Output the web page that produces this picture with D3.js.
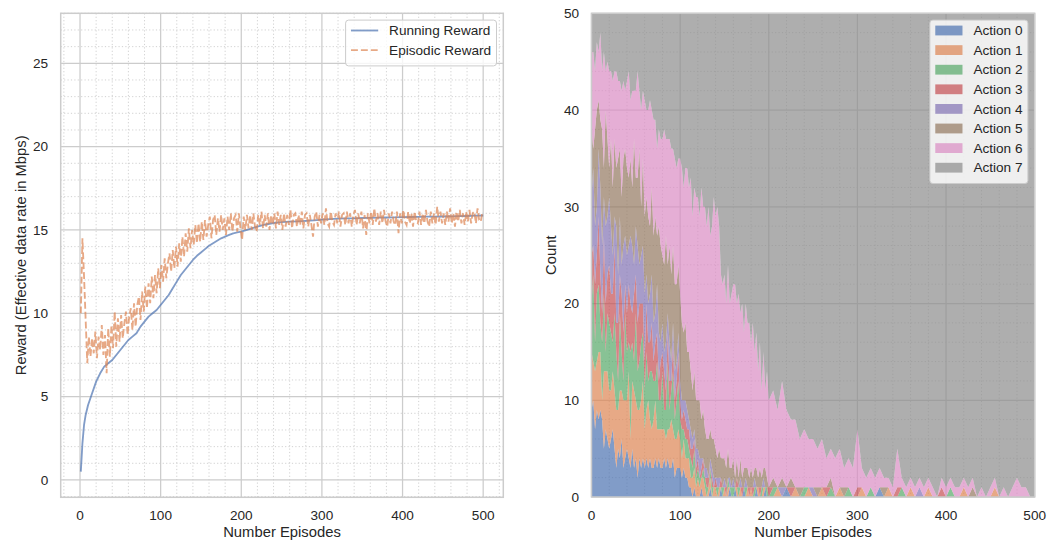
<!DOCTYPE html>
<html lang="en">
<head>
<meta charset="UTF-8">
<title>Reward and action counts per episode</title>
<script src="https://d3js.org/d3.v7.min.js"></script>
<style>
  body { margin: 0; background: #ffffff; }
  svg { display: block; font-family: "Liberation Sans", Arial, sans-serif; }
  .tick-label { font-size: 13.6px; fill: #262626; }
  .axis-label { font-size: 14.8px; fill: #262626; }
  .legend-text { font-size: 13.6px; fill: #262626; }
</style>
</head>
<body>
<svg width="1061" height="542"></svg>
<script>
// ---------- data ----------
const episodeTicks = [0, 100, 200, 300, 400, 500];
const rewardTicks = [0, 5, 10, 15, 20, 25];
const countTicks = [0, 10, 20, 30, 40, 50];

const runEpisodes = [1, 3, 5, 7, 10, 15, 20, 25, 30, 35, 40, 45, 50, 55, 60, 65, 70, 75, 80, 85, 90, 95, 100,
  105, 110, 115, 120, 125, 130, 135, 140, 145, 150, 155, 160, 165, 170, 175, 180, 185, 190, 195, 200,
  210, 220, 230, 240, 250, 260, 270, 280, 290, 300, 310, 320, 330, 340, 350, 360, 370, 380, 390, 400,
  410, 420, 430, 440, 450, 460, 470, 480, 490, 500];
const runningReward = [0.5, 2.2, 3.3, 3.9, 4.5, 5.2, 5.9, 6.4, 6.8, 7.0, 7.2, 7.5, 7.8, 8.1, 8.4, 8.6, 8.8, 9.2, 9.5, 9.8, 10.0, 10.2, 10.5,
  10.8, 11.1, 11.5, 11.9, 12.3, 12.6, 12.9, 13.2, 13.45, 13.65, 13.85, 14.05, 14.2, 14.35, 14.5, 14.6, 14.7, 14.8, 14.85, 14.9,
  15.05, 15.2, 15.33, 15.42, 15.47, 15.5, 15.52, 15.55, 15.58, 15.62, 15.65, 15.68, 15.7, 15.7, 15.72, 15.73, 15.74, 15.75, 15.76, 15.77,
  15.78, 15.79, 15.8, 15.8, 15.81, 15.82, 15.83, 15.84, 15.86, 15.87];

// every second episode, 1..499
const epiEpisodes = d3.range(1, 500, 2);
const episodicReward = [
  10.0, 14.5, 12.2, 9.6, 7.0, 8.6, 7.4, 8.5, 7.6, 8.9, 7.3, 8.6, 7.8, 9.3, 7.5,
  8.7, 6.4, 9.1, 7.4, 9.3, 7.9, 10.1, 8.0, 9.7, 8.3, 9.9, 8.5, 9.4, 10.1, 8.7,
  9.8, 10.3, 9.0, 10.6, 9.2, 10.5, 11.0, 9.6, 11.3, 10.1, 11.6, 10.3, 11.8, 10.6, 12.2,
  10.9, 12.3, 11.2, 12.7, 11.5, 12.9, 11.9, 13.3, 12.1, 13.0, 13.6, 12.5, 13.8, 12.7, 14.0,
  12.8, 14.2, 13.1, 14.6, 13.4, 14.8, 13.7, 15.1, 13.9, 15.0, 14.1, 15.3, 14.2, 15.4, 14.3,
  15.5, 14.4, 15.6, 14.6, 15.3, 15.8, 14.5, 15.6, 15.9, 14.7, 15.7, 14.9, 15.9, 15.0, 15.7,
  14.7, 15.8, 15.0, 16.0, 14.9, 15.7, 15.9, 14.9, 16.0, 15.1, 14.4, 15.8, 15.0, 15.9, 15.1,
  15.9, 15.0, 16.0, 15.2, 14.9, 15.9, 15.3, 16.1, 15.1, 15.9, 15.2, 16.0, 15.0, 15.9, 15.3,
  16.0, 15.1, 16.1, 15.3, 15.9, 15.0, 16.0, 15.2, 15.9, 15.3, 16.2, 15.1, 15.9, 16.0, 15.2,
  15.9, 15.3, 16.1, 15.1, 15.9, 16.0, 15.2, 15.9, 15.3, 14.6, 15.8, 16.1, 15.2, 15.9, 15.4,
  16.0, 15.3, 16.3, 15.4, 15.2, 16.1, 15.5, 15.3, 16.0, 15.4, 16.1, 15.2, 15.9, 16.0, 15.3,
  16.1, 15.4, 16.0, 15.2, 15.9, 16.2, 15.3, 16.0, 15.4, 16.1, 15.1, 15.9, 14.7, 16.0, 15.4,
  16.1, 15.3, 16.3, 15.5, 16.0, 15.3, 16.1, 15.4, 16.2, 15.5, 15.2, 16.0, 15.4, 16.1, 15.5,
  15.3, 16.1, 14.8, 16.0, 15.4, 16.2, 15.5, 15.3, 16.1, 15.4, 16.0, 15.2, 16.1, 15.5, 15.4,
  16.1, 15.3, 16.0, 15.4, 16.2, 15.5, 15.2, 16.1, 15.4, 16.0, 15.3, 16.4, 15.5, 16.1, 15.4,
  16.0, 15.3, 16.1, 15.5, 16.3, 15.4, 16.0, 15.2, 16.1, 15.5, 16.2, 15.4, 16.0, 15.3, 16.1,
  15.5, 16.2, 15.4, 16.0, 16.1, 15.4, 16.3, 15.6, 15.5, 16.1
];

// action counts (50 steps per episode): every 2nd episode up to 200, then every 5th
const actionEpisodes = d3.range(0, 201, 2).concat(d3.range(205, 501, 5));
const action0 = [
  9, 10, 7, 9, 8, 9, 8, 5, 7, 6, 5, 6, 7, 5, 3, 5, 4, 6, 3, 4, 5, 4, 3, 5, 3, 4, 2, 4, 3, 4,
  3, 4, 3, 4, 3, 3, 4, 3, 4, 3, 3, 4, 3, 4, 3, 3, 4, 2, 3, 3, 3, 2, 3, 2, 2, 1, 1, 0, 1, 0,
  0, 0, 1, 0, 0, 0, 0, 1, 0, 0, 0, 0, 0, 1, 0, 0, 0, 0, 1, 0, 0, 1, 0, 0, 0, 0, 1, 0, 0, 0,
  0, 0, 0, 1, 0, 0, 0, 0, 1, 0, 0,
  0, 0, 0, 1, 0, 0, 0, 0, 0, 0, 0, 0, 0, 0, 0, 0, 0, 0, 0, 0, 0, 0, 0, 0, 1, 0, 0, 0, 0,
  0, 0, 0, 0, 0, 0, 0, 0, 0, 0, 0, 0, 0, 0, 0, 0, 0, 0, 0, 0, 0, 0, 0, 0, 0, 0, 0, 0, 0, 0, 0];
const action1 = [
  6, 4, 6, 5, 7, 6, 2, 8, 6, 7, 6, 5, 6, 6, 6, 4, 7, 5, 7, 6, 5, 9, 3, 7, 8, 6, 7, 5, 7, 8,
  4, 5, 7, 4, 4, 5, 6, 4, 3, 4, 4, 3, 3, 3, 4, 5, 3, 4, 3, 4, 3, 2, 3, 2, 2, 3, 1, 2, 2, 1,
  2, 1, 1, 2, 1, 0, 1, 1, 0, 1, 1, 0, 1, 0, 0, 1, 0, 1, 0, 0, 0, 0, 1, 0, 1, 0, 0, 0, 1, 0,
  1, 0, 0, 0, 1, 0, 0, 1, 0, 0, 0,
  0, 1, 0, 0, 0, 1, 0, 0, 1, 0, 0, 1, 0, 0, 0, 1, 0, 0, 0, 0, 1, 0, 0, 0, 0, 0, 1, 0, 0,
  0, 0, 1, 0, 0, 0, 1, 0, 0, 0, 0, 0, 0, 0, 1, 0, 0, 0, 0, 0, 0, 1, 0, 0, 0, 0, 0, 0, 0, 0, 0];
const action2 = [
  5, 9, 3, 7, 7, 3, 6, 8, 2, 6, 7, 6, 3, 8, 6, 3, 8, 4, 2, 9, 5, 3, 9, 4, 3, 9, 4, 5, 6, 5,
  4, 6, 2, 5, 6, 4, 2, 7, 3, 3, 6, 2, 3, 7, 2, 3, 6, 2, 4, 5, 2, 3, 1, 2, 2, 1, 2, 1, 2, 1,
  1, 1, 0, 1, 1, 1, 0, 1, 1, 0, 0, 1, 0, 0, 1, 0, 0, 1, 0, 1, 1, 0, 0, 1, 0, 0, 0, 1, 0, 0,
  0, 0, 1, 0, 0, 0, 1, 0, 0, 1, 0,
  1, 0, 0, 0, 0, 0, 0, 1, 0, 0, 0, 0, 0, 1, 0, 0, 0, 1, 0, 0, 0, 0, 1, 0, 0, 0, 0, 0, 0,
  1, 0, 0, 0, 0, 0, 0, 0, 0, 0, 0, 1, 0, 0, 0, 0, 0, 0, 0, 0, 0, 0, 0, 0, 0, 0, 0, 0, 0, 0, 0];
const action3 = [
  5, 3, 6, 4, 7, 5, 3, 6, 5, 4, 6, 4, 5, 7, 3, 6, 4, 6, 5, 3, 4, 6, 5, 3, 7, 4, 5, 6, 4, 3,
  3, 5, 4, 3, 5, 2, 4, 3, 2, 4, 2, 4, 2, 3, 3, 1, 3, 2, 2, 3, 2, 1, 2, 2, 1, 2, 1, 2, 1, 1,
  1, 0, 1, 1, 0, 1, 1, 0, 1, 0, 1, 0, 0, 1, 0, 0, 1, 0, 0, 0, 0, 0, 1, 0, 0, 1, 0, 0, 0, 1,
  0, 1, 0, 0, 0, 1, 0, 0, 0, 0, 1,
  0, 0, 0, 0, 1, 0, 0, 0, 0, 0, 0, 0, 1, 0, 0, 0, 0, 0, 0, 1, 0, 0, 0, 0, 0, 0, 0, 0, 1,
  0, 0, 0, 0, 0, 0, 0, 0, 0, 1, 0, 0, 0, 0, 0, 0, 0, 0, 0, 0, 0, 0, 0, 0, 0, 0, 0, 0, 0, 0, 0];
const action4 = [
  6, 8, 6, 5, 7, 9, 7, 4, 8, 6, 7, 7, 4, 3, 10, 5, 6, 3, 9, 5, 6, 4, 7, 7, 3, 5, 8, 4, 5, 6,
  7, 3, 4, 5, 5, 4, 3, 5, 5, 2, 3, 2, 5, 2, 4, 2, 2, 3, 2, 2, 2, 2, 1, 2, 2, 1, 2, 1, 1, 2,
  1, 2, 1, 0, 1, 1, 0, 1, 1, 1, 0, 1, 1, 0, 0, 1, 0, 0, 1, 0, 1, 0, 0, 0, 1, 0, 0, 1, 0, 0,
  0, 0, 1, 0, 0, 0, 0, 1, 0, 0, 0,
  0, 0, 1, 0, 0, 0, 0, 0, 0, 1, 0, 0, 0, 0, 0, 0, 0, 0, 0, 0, 0, 0, 0, 0, 0, 0, 0, 0, 0,
  0, 0, 0, 0, 1, 0, 0, 0, 0, 0, 0, 0, 0, 0, 0, 0, 0, 0, 0, 0, 0, 0, 0, 0, 0, 0, 0, 0, 0, 0, 0];
const action5 = [
  7, 2, 10, 10, 5, 7, 12, 3, 12, 8, 3, 9, 7, 8, 6, 12, 7, 7, 9, 9, 9, 7, 8, 6, 13, 5, 7, 12, 5, 9,
  8, 8, 9, 7, 9, 9, 10, 5, 11, 10, 7, 9, 11, 5, 10, 9, 8, 9, 8, 7, 9, 8, 7, 8, 6, 7, 6, 5, 6, 5,
  5, 6, 4, 5, 4, 3, 4, 3, 3, 4, 3, 2, 3, 2, 3, 2, 2, 3, 1, 2, 2, 1, 2, 1, 2, 1, 2, 1, 2, 1,
  2, 1, 1, 2, 1, 2, 1, 1, 2, 1, 0,
  1, 0, 1, 0, 1, 0, 1, 0, 0, 0, 1, 0, 0, 1, 0, 0, 1, 0, 0, 0, 0, 0, 0, 0, 0, 1, 0, 0, 0,
  0, 0, 0, 0, 0, 0, 0, 0, 0, 0, 0, 0, 0, 0, 0, 0, 1, 0, 0, 0, 0, 0, 0, 0, 0, 0, 0, 0, 0, 0, 0];
const action6 = [
  8, 10, 6, 7, 5, 9, 6, 12, 4, 8, 10, 7, 11, 7, 10, 8, 7, 11, 8, 6, 9, 11, 6, 10, 5, 9, 11, 6, 10, 7,
  12, 9, 11, 13, 8, 12, 10, 9, 10, 11, 12, 14, 10, 13, 11, 13, 10, 13, 12, 11, 14, 16, 15, 16, 19, 17, 20, 18, 19, 21,
  21, 19, 24, 21, 23, 22, 24, 20, 22, 25, 24, 26, 23, 19, 18, 19, 17, 19, 17, 18, 18, 20, 16, 19, 15, 18, 14, 17, 15, 16,
  13, 16, 12, 14, 11, 13, 9, 12, 8, 11, 9,
  9, 8, 10, 8, 6, 7, 5, 6, 5, 5, 4, 5, 3, 3, 4, 4, 2, 3, 3, 6, 2, 2, 2, 2, 2, 1, 1, 1, 4,
  1, 1, 1, 1, 1, 1, 1, 1, 0, 1, 1, 1, 1, 1, 1, 1, 1, 0, 1, 0, 1, 1, 0, 1, 0, 1, 2, 1, 1, 0, 0];
const action7 = [
  4, 4, 6, 3, 4, 2, 6, 4, 6, 5, 6, 6, 7, 6, 6, 7, 7, 8, 7, 8, 7, 6, 9, 8, 8, 8, 6, 8, 10, 8,
  9, 10, 10, 9, 10, 11, 11, 14, 12, 13, 13, 12, 13, 13, 13, 14, 14, 15, 16, 15, 15, 16, 18, 16, 16, 18, 17, 21, 18, 19,
  19, 21, 18, 20, 20, 22, 20, 23, 22, 19, 21, 20, 22, 27, 28, 27, 30, 26, 30, 29, 28, 28, 30, 29, 31, 30, 33, 30, 32, 32,
  34, 32, 35, 33, 37, 34, 39, 35, 39, 37, 40,
  39, 41, 38, 41, 42, 42, 44, 43, 44, 44, 45, 44, 46, 45, 46, 45, 47, 46, 47, 43, 47, 48, 47, 48, 47, 48, 48, 49, 45,
  48, 49, 48, 49, 48, 49, 48, 49, 50, 48, 49, 48, 49, 49, 48, 49, 48, 50, 49, 50, 49, 48, 50, 49, 50, 49, 48, 49, 49, 50, 50];

const actionNames = ["Action 0", "Action 1", "Action 2", "Action 3", "Action 4", "Action 5", "Action 6", "Action 7"];
const actionSeries = [action0, action1, action2, action3, action4, action5, action6, action7];
const palette = ["#4c72b0", "#dd8452", "#55a868", "#c44e52", "#8172b3", "#937860", "#da8bc3", "#8c8c8c"];

// ---------- layout ----------
const svg = d3.select("svg");
const gridColor = "#cccccc";

const L = { left: 60.7, right: 503.3, top: 13.3, bottom: 497.3 };
const R = { left: 591.5, right: 1034.7, top: 13.3, bottom: 497 };

const xL = d3.scaleLinear().domain([-23.95, 524.95]).range([L.left, L.right]);
const yL = d3.scaleLinear().domain([-1.04, 28.0]).range([L.bottom, L.top]);
const xR = d3.scaleLinear().domain([0, 500]).range([R.left, R.right]);
const yR = d3.scaleLinear().domain([0, 50]).range([R.bottom, R.top]);

function drawGrid(box, x, y, xMajor, yMajor, xMinor, yMinor) {
  const g = svg.append("g");
  g.selectAll(".mx").data(xMinor).enter().append("line")
    .attr("x1", d => x(d)).attr("x2", d => x(d))
    .attr("y1", box.top).attr("y2", box.bottom)
    .attr("stroke", gridColor).attr("stroke-width", 0.9).attr("stroke-dasharray", "1.2,2.2");
  g.selectAll(".my").data(yMinor).enter().append("line")
    .attr("x1", box.left).attr("x2", box.right)
    .attr("y1", d => y(d)).attr("y2", d => y(d))
    .attr("stroke", gridColor).attr("stroke-width", 0.9).attr("stroke-dasharray", "1.2,2.2");
  g.selectAll(".gx").data(xMajor).enter().append("line")
    .attr("x1", d => x(d)).attr("x2", d => x(d))
    .attr("y1", box.top).attr("y2", box.bottom)
    .attr("stroke", gridColor).attr("stroke-width", 1.25);
  g.selectAll(".gy").data(yMajor).enter().append("line")
    .attr("x1", box.left).attr("x2", box.right)
    .attr("y1", d => y(d)).attr("y2", d => y(d))
    .attr("stroke", gridColor).attr("stroke-width", 1.25);
}

function drawAxes(box, x, y, xMajor, yMajor, xTitle, yTitle, yTitleX) {
  svg.append("rect")
    .attr("x", box.left).attr("y", box.top)
    .attr("width", box.right - box.left).attr("height", box.bottom - box.top)
    .attr("fill", "none").attr("stroke", gridColor).attr("stroke-width", 1.5);

  svg.append("g").selectAll("text").data(xMajor).enter().append("text")
    .attr("class", "tick-label")
    .attr("x", d => x(d)).attr("y", 519.5)
    .attr("text-anchor", "middle")
    .text(d => d);

  svg.append("g").selectAll("text").data(yMajor).enter().append("text")
    .attr("class", "tick-label")
    .attr("x", box.left - 12.5).attr("y", d => y(d))
    .attr("dy", "0.35em")
    .attr("text-anchor", "end")
    .text(d => d);

  svg.append("text").attr("class", "axis-label")
    .attr("x", (box.left + box.right) / 2).attr("y", 536.5)
    .attr("text-anchor", "middle").text(xTitle);

  svg.append("text").attr("class", "axis-label")
    .attr("transform", `translate(${yTitleX},${(box.top + box.bottom) / 2}) rotate(-90)`)
    .attr("text-anchor", "middle").text(yTitle);
}

function clipFor(id, box) {
  svg.append("clipPath").attr("id", id).append("rect")
    .attr("x", box.left).attr("y", box.top)
    .attr("width", box.right - box.left).attr("height", box.bottom - box.top);
}

function drawLegend(box, entries, drawHandle, bg) {
  const pad = 5.4, handleLen = 27.2, gap = 10.9, rowH = 19.6;
  const g = svg.append("g");
  const frame = g.append("rect");
  const texts = entries.map((e, i) => g.append("text")
    .attr("class", "legend-text")
    .attr("y", box.top + 6.8 + pad + 5 + i * rowH)
    .attr("dy", "0.35em")
    .text(e.label));
  const textW = d3.max(texts, t => t.node().getComputedTextLength());
  const w = pad + handleLen + gap + textW + pad;
  const h = pad * 2 + entries.length * rowH - 4.2;
  const x0 = box.right - 6.8 - w, y0 = box.top + 6.8;
  frame.attr("x", x0).attr("y", y0).attr("width", w).attr("height", h)
    .attr("rx", 3).attr("fill", bg).attr("stroke", gridColor).attr("stroke-width", 1);
  texts.forEach(t => t.attr("x", x0 + pad + handleLen + gap));
  entries.forEach((e, i) => drawHandle(g, e, x0 + pad, y0 + pad + 5 + i * rowH, handleLen));
}

// ---------- left: rewards ----------
const leftMinorX = d3.range(-20, 521, 20).filter(d => d % 100 !== 0);
const leftMinorY = d3.range(-1, 29, 1).filter(d => d % 5 !== 0);
drawGrid(L, xL, yL, episodeTicks, rewardTicks, leftMinorX, leftMinorY);
clipFor("clipL", L);

const runLine = d3.line().x((d, i) => xL(runEpisodes[i])).y(d => yL(d));
const epiLine = d3.line().x((d, i) => xL(epiEpisodes[i])).y(d => yL(d));

const leftPlot = svg.append("g").attr("clip-path", "url(#clipL)");
leftPlot.append("path").datum(runningReward)
  .attr("d", runLine).attr("fill", "none")
  .attr("stroke", palette[0]).attr("stroke-opacity", 0.7)
  .attr("stroke-width", 1.85).attr("stroke-linejoin", "round");
leftPlot.append("path").datum(episodicReward)
  .attr("d", epiLine).attr("fill", "none")
  .attr("stroke", palette[1]).attr("stroke-opacity", 0.7)
  .attr("stroke-width", 1.85).attr("stroke-dasharray", "6.9,3");

drawAxes(L, xL, yL, episodeTicks, rewardTicks, "Number Episodes", "Reward (Effective data rate in Mbps)", 25.5);

drawLegend(L, [
  { label: "Running Reward", color: palette[0], dash: null },
  { label: "Episodic Reward", color: palette[1], dash: "6.9,3" }
], (g, e, x, y, len) => {
  g.append("line").attr("x1", x).attr("x2", x + len).attr("y1", y).attr("y2", y)
    .attr("stroke", e.color).attr("stroke-opacity", 0.7).attr("stroke-width", 1.85)
    .attr("stroke-dasharray", e.dash);
}, "rgba(255,255,255,0.8)");

// ---------- right: action counts ----------
const rightMinorX = d3.range(20, 500, 20).filter(d => d % 100 !== 0);
const rightMinorY = d3.range(2, 50, 2).filter(d => d % 10 !== 0);
drawGrid(R, xR, yR, episodeTicks, countTicks, rightMinorX, rightMinorY);
clipFor("clipR", R);

const rows = actionEpisodes.map((ep, i) => {
  const row = { ep: ep };
  actionNames.forEach((name, k) => { row[name] = actionSeries[k][i]; });
  return row;
});
const layers = d3.stack().keys(actionNames)(rows);
const area = d3.area()
  .x(d => xR(d.data.ep))
  .y0(d => yR(d[0]))
  .y1(d => yR(d[1]));

svg.append("g").attr("clip-path", "url(#clipR)")
  .selectAll("path").data(layers).enter().append("path")
  .attr("d", area)
  .attr("fill", (d, i) => palette[i])
  .attr("fill-opacity", 0.7);

drawAxes(R, xR, yR, episodeTicks, countTicks, "Number Episodes", "Count", 556);

drawLegend(R, actionNames.map((name, i) => ({ label: name, color: palette[i] })),
  (g, e, x, y, len) => {
    g.append("rect").attr("x", x).attr("y", y - 4.9).attr("width", len).attr("height", 9.8)
      .attr("fill", e.color).attr("fill-opacity", 0.7);
  }, "rgba(255,255,255,0.8)");
</script>
</body>
</html>
